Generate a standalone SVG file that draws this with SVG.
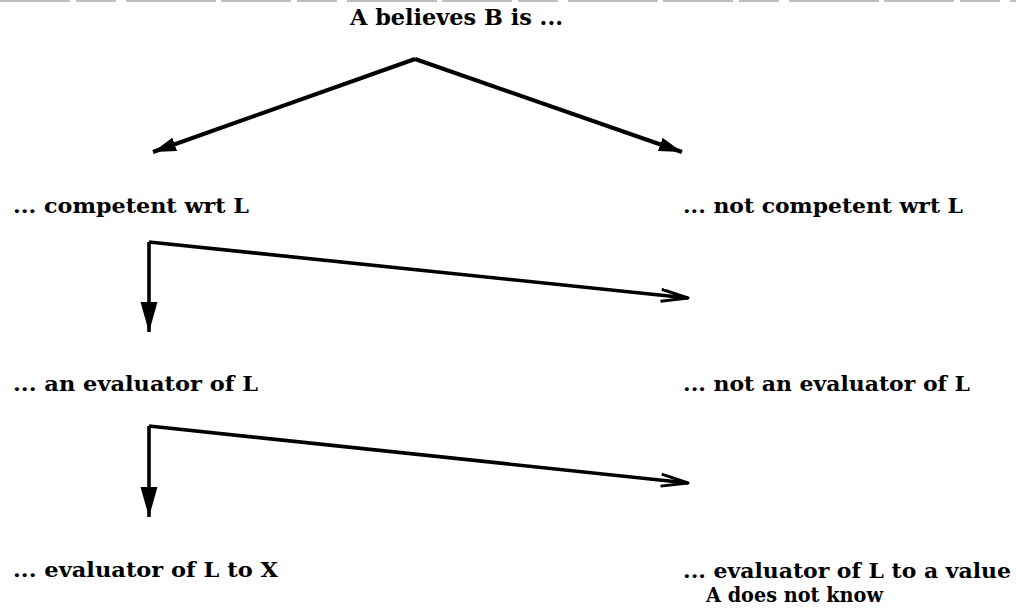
<svg xmlns="http://www.w3.org/2000/svg" width="1016" height="613" viewBox="0 0 1016 613">
<style>
.t{font-family:"DejaVu Serif","Liberation Serif",serif;font-size:21px;font-weight:bold;fill:#000}
.h{font-size:23px}
.c{stroke:#000;stroke-width:3.6;fill:none;stroke-linejoin:round}
.top{stroke-width:4}
.scan{stroke:#aaa;stroke-width:1.5;stroke-dasharray:70 6 40 10 90 5}
</style>
<defs>
<marker id="fillS" markerWidth="26" markerHeight="16" refX="23" refY="7" orient="auto" markerUnits="userSpaceOnUse">
<path d="M0,0 L23,7 L0,14 Z" fill="#000"/>
</marker>
<marker id="fillL" markerWidth="32" markerHeight="18" refX="30" refY="8.5" orient="auto" markerUnits="userSpaceOnUse">
<path d="M0,0 L30,8.5 L0,17 Z" fill="#000"/>
</marker>
<marker id="open" markerWidth="32" markerHeight="16" refX="28" refY="7" orient="auto" markerUnits="userSpaceOnUse">
<path d="M1,1 L28,7 L1,13" fill="none" stroke="#000" stroke-width="3" stroke-linejoin="round"/>
</marker>
</defs>
<rect width="1016" height="613" fill="#fff"/>
<line class="scan" x1="0" y1="1" x2="1016" y2="1"/>
<g id="n0"><text class="t h" x="350" y="25" textLength="213" lengthAdjust="spacingAndGlyphs">A believes B is ...</text></g>
<g id="n1"><text class="t" x="13" y="213" textLength="236" lengthAdjust="spacingAndGlyphs">... competent wrt L</text></g>
<g id="n2"><text class="t" x="683" y="213" textLength="280" lengthAdjust="spacingAndGlyphs">... not competent wrt L</text></g>
<g id="n3"><text class="t" x="13" y="391" textLength="245" lengthAdjust="spacingAndGlyphs">... an evaluator of L</text></g>
<g id="n4"><text class="t" x="683" y="391" textLength="287" lengthAdjust="spacingAndGlyphs">... not an evaluator of L</text></g>
<g id="n5"><text class="t" x="13" y="577" textLength="265" lengthAdjust="spacingAndGlyphs">... evaluator of L to X</text></g>
<g id="n6"><text class="t" x="683" y="578" textLength="328" lengthAdjust="spacingAndGlyphs">... evaluator of L to a value</text><text class="t" x="706" y="602" textLength="177" lengthAdjust="spacingAndGlyphs">A does not know</text></g>
<g id="connectors">
<path class="c top" d="M415,59 L153,152" marker-end="url(#fillS)"/>
<path class="c top" d="M415,59 L682,152" marker-end="url(#fillS)"/>
<path class="c" d="M149,242 L149,332" marker-end="url(#fillL)"/>
<path class="c" d="M149,242 L688,298" marker-end="url(#open)"/>
<path class="c" d="M149,426 L149,517" marker-end="url(#fillL)"/>
<path class="c" d="M149,426 L688,483" marker-end="url(#open)"/>
</g>
</svg>
